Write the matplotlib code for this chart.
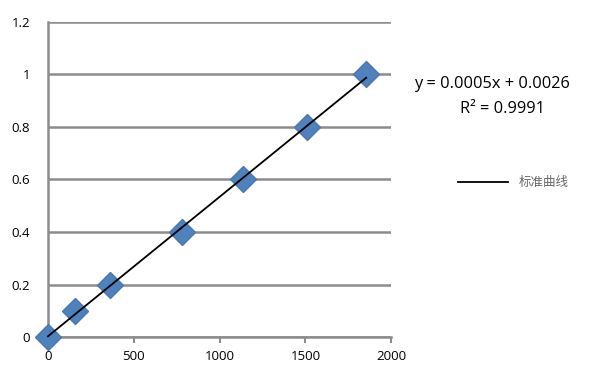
import matplotlib.pyplot as plt
import numpy as np

plt.rcParams['font.family'] = ['Open Sans', 'DejaVu Sans', 'Noto Sans CJK SC']

# 浓度数据
xData = [0, 157, 362, 781, 1137, 1510, 1854]
yData = [0, 0.1, 0.2, 0.4, 0.6, 0.8, 1.0]
xTicks = [0, 500, 1000, 1500, 2000]
yTicks = [0, 0.2, 0.4, 0.6, 0.8, 1.0, 1.2]
yTickLabels = ["0", "0.2", "0.4", "0.6", "0.8", "1", "1.2"]
sLigning = "y = 0.0005x + 0.0026"
sR2 = "R² = 0.9991"
sLegend = "标准曲线"

fig = plt.figure(figsize=(6, 3.77), dpi=100)
ax = fig.add_axes([0.08, 0.106, 0.572, 0.836])

# trendlinje via polyfit
k, m = np.polyfit(xData, yData, 1)
xLin = np.array([xData[0], xData[-1]])
ax.plot(xData, yData, linestyle="none", marker="D", markersize=13,
        color="#4F81BD", markeredgecolor="#4A78B0", zorder=3, clip_on=False)
line, = ax.plot(xLin, k * xLin + m, color="black", linewidth=1.3, zorder=4,
                clip_on=False)

ax.set_xlim(0, 2000)
ax.set_ylim(0, 1.2)
ax.set_xticks(xTicks)
ax.set_yticks(yTicks)
ax.set_yticklabels(yTickLabels)
ax.grid(axis="y", color="#8c8c8c", linewidth=1.8)
ax.set_axisbelow(True)
for s in ["top", "right"]:
    ax.spines[s].set_visible(False)
for s in ["left", "bottom"]:
    ax.spines[s].set_color("#8c8c8c")
    ax.spines[s].set_linewidth(1.8)
ax.tick_params(axis="x", direction="out", length=4, width=1.5, color="#8c8c8c",
               labelsize=9.5, pad=5)
ax.tick_params(axis="y", length=0, labelsize=9.5, pad=13)

fig.text(0.82, 0.778, sLigning, ha="center", va="center", fontsize=11.8)
fig.text(0.838, 0.712, sR2, ha="center", va="center", fontsize=11.8)

fig.legend([line], [sLegend], loc="center left", bbox_to_anchor=(0.745, 0.515),
           frameon=False, handlelength=4, labelcolor="#666666",
           prop={"family": ["Noto Sans CJK SC"], "size": 9})

fig.savefig("out.png")
